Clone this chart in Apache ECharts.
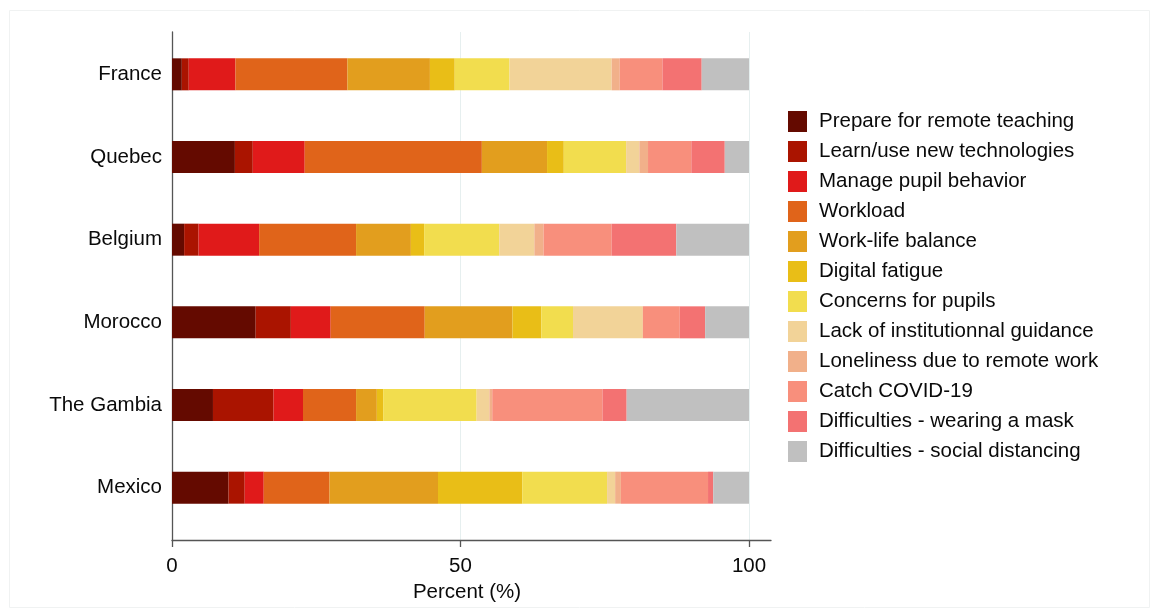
<!DOCTYPE html>
<html>
<head>
<meta charset="utf-8">
<script src="https://cdn.jsdelivr.net/npm/echarts@6/dist/echarts.min.js"></script>
<style>
html,body{margin:0;padding:0;background:#fff;}
#chart{width:1154px;height:613px;}
</style>
</head>
<body>
<div id="chart"></div>
<script>
const countries = ["France", "Quebec", "Belgium", "Morocco", "The Gambia", "Mexico"];
const seriesNames = [
  "Prepare for remote teaching",
  "Learn/use new technologies",
  "Manage pupil behavior",
  "Workload",
  "Work-life balance",
  "Digital fatigue",
  "Concerns for pupils",
  "Lack of institutionnal guidance",
  "Loneliness due to remote work",
  "Catch COVID-19",
  "Difficulties - wearing a mask",
  "Difficulties - social distancing"
];
const colors = ["#640A00", "#AA1400", "#E01A1A", "#E0641A", "#E29E1E", "#E9BE17",
                "#F2DD4E", "#F2D398", "#F1B08A", "#F88F7C", "#F37272", "#C0C0C0"];
// values per series, ordered as countries
const prepareRemote   = [1.7, 10.9, 2.1, 14.5, 7.1, 9.8];
const learnTech       = [1.2, 3.1, 2.5, 6.1, 10.5, 2.8];
const managePupil     = [8.1, 9.0, 10.5, 6.9, 5.1, 3.3];
const workload        = [19.4, 30.7, 16.8, 16.3, 9.2, 11.4];
const workLife        = [14.3, 11.3, 9.5, 15.2, 3.6, 18.8];
const digitalFatigue  = [4.3, 2.9, 2.3, 5.0, 1.1, 14.6];
const concernsPupils  = [9.5, 10.8, 13.0, 5.5, 16.2, 14.7];
const lackGuidance    = [17.7, 2.3, 6.1, 12.1, 2.2, 1.4];
const loneliness      = [1.4, 1.5, 1.6, 0.0, 0.5, 1.0];
const catchCovid      = [7.4, 7.5, 11.8, 6.4, 19.1, 15.1];
const wearingMask     = [6.8, 5.8, 11.2, 4.4, 4.2, 0.9];
const socialDistance  = [8.2, 4.2, 12.6, 7.6, 21.2, 6.2];
const allValues = [prepareRemote, learnTech, managePupil, workload, workLife, digitalFatigue,
                   concernsPupils, lackGuidance, loneliness, catchCovid, wearingMask, socialDistance];
const xTicks = [0, 50, 100];
const xTitle = "Percent (%)";

const FONT = "'Liberation Sans', Arial, sans-serif";
const FS = 20.5;
const chart = echarts.init(document.getElementById('chart'), null, {renderer: 'canvas'});
const option = {
  animation: false,
  backgroundColor: '#ffffff',
  textStyle: {fontFamily: FONT},
  graphic: [{
    type: 'rect', silent: true, z: -10,
    shape: {x: 9.5, y: 10.5, width: 1140, height: 597},
    style: {fill: 'none', stroke: '#f0f2f2', lineWidth: 1}
  }],
  grid: [
    {left: 172, top: 32, width: 599, height: 508, containLabel: false},
    {left: 172, top: 33, width: 577, height: 496, containLabel: false}
  ],
  xAxis: [
    {
      type: 'value', gridIndex: 0, min: 0, max: 100 * 599 / 577,
      axisLine: {show: true, lineStyle: {color: '#555', width: 1.3}},
      axisTick: {show: true, length: 7, customValues: xTicks, lineStyle: {color: '#555', width: 1.3}},
      axisLabel: {show: true, customValues: xTicks, fontSize: FS, color: '#0a0a0a', margin: 16, fontFamily: FONT},
      splitLine: {show: true, lineStyle: {color: '#e6efef', width: 1}},
      name: xTitle, nameLocation: 'middle', nameGap: 36,
      nameTextStyle: {fontSize: FS, color: '#0a0a0a', fontFamily: FONT, padding: [0, 9, 0, 0]}
    },
    {type: 'value', gridIndex: 1, min: 0, max: 100, show: false}
  ],
  yAxis: [
    {
      type: 'value', gridIndex: 0, min: 0, max: 1,
      axisLine: {show: true, lineStyle: {color: '#555', width: 1.3}},
      axisTick: {show: false}, axisLabel: {show: false}, splitLine: {show: false}
    },
    {
      type: 'category', gridIndex: 1, data: countries, inverse: true,
      axisLine: {show: false}, axisTick: {show: false}, splitLine: {show: false},
      axisLabel: {fontSize: FS, color: '#0a0a0a', margin: 10, fontFamily: FONT}
    }
  ],
  legend: {
    orient: 'vertical', left: 783, top: 106,
    icon: 'rect', itemWidth: 19, itemHeight: 21, itemGap: 9,
    data: seriesNames,
    textStyle: {fontSize: FS, color: '#0a0a0a', fontFamily: FONT, padding: [0, 0, 0, 7]}
  },
  series: seriesNames.map((name, i) => ({
    name: name, type: 'bar', stack: 'total',
    xAxisIndex: 1, yAxisIndex: 1,
    barWidth: 32,
    itemStyle: {color: colors[i]},
    emphasis: {disabled: true},
    data: allValues[i]
  }))
};
chart.setOption(option);
</script>
</body>
</html>
